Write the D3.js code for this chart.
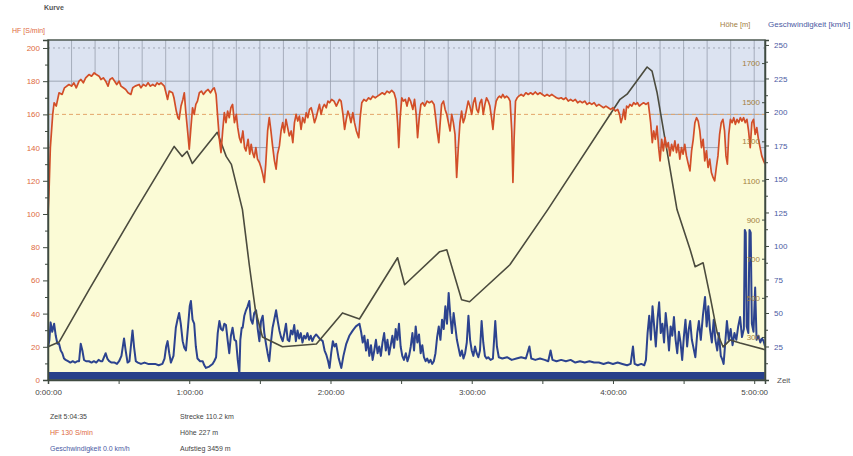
<!DOCTYPE html>
<html><head><meta charset="utf-8">
<script src="https://cdn.jsdelivr.net/npm/d3@7"></script>
<style>body{margin:0;background:#fff}svg{display:block;font-family:"Liberation Sans",Arial,sans-serif}</style>
</head><body><svg id="c" width="853" height="456"></svg>
<script>
// ---- data (time in minutes) ----
const hfSeries = [[0,100],[0.4,112],[1,140],[2,160],[2.6,167],[3.5,165],[4.7,173],[6,172],[7,176],[8.9,178],[10,177],[11,179],[12,176],[13.2,180],[14,181],[15,179],[16,182],[17.4,184],[18.5,183],[19.6,185],[20.5,184],[21.7,183],[22.5,181],[23.5,182],[24.5,180],[25.5,177],[26.3,181],[27.3,182],[28.3,180],[29.2,178],[30.2,180],[31,177],[32,176],[33,175],[34,173],[35.2,172],[36,176],[37,177],[38.7,178],[39.5,176],[40.5,178],[41.6,177],[42.5,179],[43.5,177],[44.5,178],[45.5,177],[46.3,179],[47.2,178],[48,179],[49.4,177],[50.3,172],[50.8,169],[51.5,174],[52.9,173],[53.5,170],[54.5,162],[55.2,158],[55.7,157],[56.5,165],[57.3,169],[57.9,173],[58.5,162],[59.3,150],[60,139],[60.6,150],[61.4,164],[62.1,160],[62.8,166],[63.5,168],[64.3,173],[65.2,174],[66,172],[67.1,174],[68,175],[69,173],[69.9,175],[70.6,176],[71.4,172],[72,160],[72.8,145],[73.5,137],[74.2,150],[74.9,161],[75.6,155],[76.3,162],[77,158],[77.7,164],[78.4,166],[79.2,155],[80,160],[80.6,152],[81.3,146],[82,143],[82.8,150],[83.5,140],[84.1,138],[85,145],[85.7,136],[86.3,142],[86.9,137],[87.6,134],[88.3,140],[89,133],[89.8,131],[90.5,128],[91.2,124],[91.9,119],[92.5,130],[93.3,150],[94,158],[94.7,150],[95.4,141],[96.2,132],[96.9,127],[97.5,136],[98.3,141],[99,150],[99.7,155],[100.4,149],[101.1,157],[101.8,152],[102.5,147],[103.3,150],[104,143],[104.7,155],[105.4,160],[106.1,156],[106.8,159],[107.5,151],[108.2,158],[109,155],[109.7,161],[110.4,158],[111.1,163],[111.8,164],[112.5,160],[113.2,155],[113.9,158],[114.6,162],[115.3,166],[116,160],[116.7,164],[117.4,166],[118.2,164],[118.9,168],[119.6,167],[120.5,169],[121.5,168],[122.5,165],[123.8,169],[124.5,168],[125.3,160],[126,151],[126.7,157],[127.4,162],[128.1,159],[128.7,155],[129.5,161],[130.2,155],[131,150],[132,146],[132.6,158],[133.3,167],[134.2,169],[135.2,168],[136.2,170],[137,169],[138,171],[139,170],[140,171],[141,172],[142,173],[143,172],[144,174],[145,173],[146,174.5],[147,173],[147.8,169],[148.5,155],[149,140],[149.6,158],[150.3,170],[151,168],[151.8,169],[152.5,165],[153.3,170],[154,168],[155,163],[155.7,169],[156.4,160],[157,146],[157.7,158],[158.4,166],[159.2,167],[160,165],[161,168],[162,167],[163,168],[164,166],[164.6,159],[165.3,150],[166,143],[166.6,155],[167.2,166],[168,168],[168.7,163],[169.4,160],[170.1,155],[170.8,150],[171.5,160],[172.2,155],[172.9,148],[173.6,122],[174.3,140],[175,155],[175.7,162],[176.4,155],[177.1,158],[177.8,163],[178.5,168],[179.2,165],[180,160],[180.7,167],[181.4,170],[182.1,163],[182.8,161],[183.5,167],[184.2,169],[184.9,160],[185.6,166],[186.3,170],[187,168],[187.7,165],[188.4,158],[189,151],[189.7,162],[190.4,168],[191.1,170],[191.8,171],[192.5,170],[193.2,172],[194,170],[194.8,171],[195.6,170],[196.3,168],[197,150],[197.5,119],[198,145],[198.6,168],[199.3,170],[200,171],[201,172],[202,171],[203,173],[204,172],[205,173],[206,172],[207,173.5],[208,172],[209,173],[210,172],[211,171],[212,172],[213,171],[214,172],[215,171],[216,170],[217,169.5],[218,170],[219,169],[220,170],[221,168],[222,169],[223,168],[224,169],[225,167],[226,168],[227,167],[228,168],[229,166],[230,167],[231,166],[232,167],[233,165],[234,166],[235,165],[236,164],[237,165],[238,164],[239,163],[240,164],[241,162],[242,163],[242.8,160],[243.4,155],[244,158],[244.6,163],[245.2,157],[245.8,165],[246.5,164],[247.2,166],[248,165],[248.8,167],[249.6,166],[250.4,167],[251.2,165],[252,166],[253,167],[254,166],[255,167],[256,155],[256.7,143],[257.3,150],[258,145],[258.7,153],[259.4,140],[260,132],[260.7,145],[261.4,138],[262.1,146],[262.8,140],[263.5,143],[264.2,135],[264.9,142],[265.6,138],[266.3,144],[267,137],[267.7,142],[268.4,133],[269.1,140],[269.8,136],[270.5,142],[271.2,135],[272,130],[272.7,126],[273.4,138],[274.1,145],[274.8,155],[275.5,158],[276.2,156],[276.9,150],[277.6,140],[278.3,145],[279,132],[279.7,138],[280.4,128],[281.1,133],[281.8,125],[282.5,122],[283.2,120],[283.9,128],[284.6,135],[285.3,148],[286,155],[286.7,157],[287.4,150],[288,135],[288.6,130],[289.2,148],[289.9,157],[290.6,155],[291.3,158],[292,154],[292.7,157],[293.4,155],[294.1,158],[294.8,156],[295.5,158],[296.2,155],[296.9,157],[297.6,150],[298.3,140],[299,155],[299.7,157],[300.4,148],[301.1,152],[301.8,145],[302.5,140],[303.2,135],[304,132],[304.6,130]];

const altSeries = [[0,250],[4.7,274],[17.4,541],[37.4,951],[53.6,1274],[57,1223],[59.1,1249],[61.3,1187],[71.9,1346],[75.7,1223],[77.9,1182],[82.6,951],[85.5,669],[88.1,438],[91.1,300],[99.6,250],[114,264],[125.1,423],[132.3,392],[148.5,705],[151.5,567],[166.4,736],[169.4,746],[175.7,490],[179.1,480],[196.2,669],[212.3,951],[243,1515],[246,1541],[254.5,1680],[256.6,1659],[258.7,1551],[267.2,951],[272.8,746],[274.9,659],[278.3,679],[281.3,505],[284.3,320],[286.8,249],[289.8,285],[294,269],[304.6,235]];

const speedSeries = [[0,24],[0.6,30],[1.1,43],[1.8,36],[2.6,42],[3.3,33],[4,27],[4.7,27],[5.4,22],[6.1,20],[6.8,16],[7.5,15],[8.5,14],[9.5,13],[10.5,14],[11.5,13],[12.4,14],[13.2,14],[13.9,27],[14.6,22],[15.3,15],[16.2,14],[17.4,14],[18.5,13],[19.5,14],[20.5,13],[21.5,15],[22.4,14],[23.1,14],[23.8,17],[24.5,20],[25.2,16],[26,14],[27,13],[28.3,13],[29.3,12],[30.2,14],[31.2,18],[32.3,31],[33,22],[33.8,13],[34.6,14],[35.2,25],[35.9,37],[36.6,24],[37.3,14],[38.2,13],[39.5,12],[41,13],[42.5,12],[44,12],[45.5,12],[47,11],[48.6,12],[49.5,16],[50.2,25],[50.8,29],[51.5,20],[52.2,13],[53.3,18],[54.3,39],[55,45],[55.7,50],[56.4,42],[57.2,29],[57.9,24],[58.6,22],[59.5,40],[60.2,55],[60.7,59],[61.4,45],[62.1,42],[62.8,25],[63.5,16],[64.6,14],[65.7,14],[66.4,11],[67.1,9],[68.5,10],[69.9,12],[70.6,14],[71.4,17],[72.1,35],[72.8,44],[73.5,38],[74.2,37],[74.9,42],[75.6,41],[76.3,30],[77,20],[77.7,33],[78.4,39],[79.2,30],[79.9,29],[80.6,15],[81.3,5],[81.7,30],[82.3,39],[82.7,39],[83.4,48],[84.1,52],[84.8,55],[85.5,59],[86.2,45],[86.9,42],[87.6,50],[88.4,52],[89.1,38],[89.8,29],[90.5,44],[91.2,48],[91.9,35],[92.6,27],[93.3,20],[94,14],[94.7,28],[95.4,39],[96.1,45],[96.9,52],[97.6,44],[98.3,37],[99,32],[99.7,29],[100.4,35],[101.1,42],[101.8,30],[102.5,29],[103.2,37],[103.9,34],[104.6,41],[105.3,29],[106,37],[106.7,31],[107.4,35],[108.1,28],[108.8,33],[109.5,31],[110.2,35],[110.9,30],[111.6,33],[112.3,29],[113,32],[113.9,34],[115.3,31],[116.7,29],[117.5,22],[118.2,19],[119,14],[119.6,9],[120.3,20],[121,29],[121.7,25],[122.4,27],[123.5,16],[124.6,9],[125.5,18],[126.7,27],[128,33],[129.5,37],[130.8,40],[132.3,42],[133,36],[133.7,28],[134.4,33],[135.1,22],[135.8,30],[136.5,18],[137.2,26],[137.9,15],[138.6,22],[139.3,30],[140,20],[140.7,25],[141.4,18],[142.1,28],[142.8,35],[143.5,22],[144.2,30],[144.9,19],[145.6,26],[146.3,33],[147,24],[147.7,38],[148.4,30],[149.1,42],[149.8,25],[150.5,18],[151.2,15],[152,20],[152.7,14],[153.4,18],[154.1,25],[154.8,35],[155.5,22],[156.2,40],[156.9,28],[157.6,34],[158.3,20],[159,26],[159.7,17],[160.4,14],[161.1,16],[161.8,13],[162.5,15],[163.2,12],[163.9,14],[164.6,20],[165.3,32],[166,40],[166.7,30],[167.4,45],[168.1,38],[168.8,55],[169.5,42],[170.2,65],[170.9,48],[171.6,35],[172.3,50],[173,40],[173.7,30],[174.4,24],[175.1,18],[175.8,22],[176.5,16],[177.2,20],[177.9,28],[178.6,48],[179.3,30],[180,22],[180.7,18],[181.4,25],[182.1,20],[182.8,17],[183.5,22],[184.2,44],[184.9,28],[185.6,18],[186.3,16],[187,17],[188,15],[189,16],[190,44],[190.7,25],[191.5,17],[193,16],[195,17],[197,15],[199,16],[201,17],[203,16],[204.5,25],[205.3,16],[207,15],[209,16],[211,15],[212.5,14],[213.5,22],[214.3,15],[216,14],[218,15],[220,14],[222,15],[224,13],[226,14],[228,13],[230,14],[232,13],[234,13],[236,12],[238,13],[240,12],[242,13],[244,12],[246,11],[247.5,12],[248.5,25],[249.2,12],[250.5,11],[252,12],[253.3,11],[254,15],[254.7,35],[255.4,48],[256.1,30],[256.8,55],[257.5,40],[258.2,25],[258.9,45],[259.6,58],[260.3,35],[261,42],[261.7,28],[262.4,50],[263.1,38],[263.8,22],[264.5,40],[265.2,33],[265.9,47],[266.6,30],[267.3,20],[268,36],[268.7,28],[269.4,15],[270.1,32],[270.8,45],[271.5,25],[272.2,38],[272.8,44],[273.5,30],[274.2,24],[275,17],[275.8,35],[276.5,44],[277.3,30],[278.2,48],[279.1,62],[279.8,40],[280.5,55],[281.2,38],[282,28],[282.8,45],[283.5,30],[284.3,22],[285,35],[285.8,18],[286.5,15],[287,12],[288.4,44],[289.2,30],[290,38],[290.8,26],[291.6,35],[292.4,30],[293.2,40],[294,47],[294.8,32],[295.6,38],[296,112],[296.4,110],[296.8,40],[297.5,35],[298,112],[298.5,110],[299,42],[299.7,36],[300.4,69],[301,30],[301.8,33],[302.6,28],[303.3,31],[304,29],[304.6,25]];

const hfTicks = [0,20,40,60,80,100,120,140,160,180,200];
const speedTicks = [25,50,75,100,125,150,175,200,225,250];
const altTicks = [300,500,700,900,1100,1300,1500,1700];
const timeTicks = [0,60,120,180,240,300];
const hfThreshold = 160;
const totalMinutes = 304.58; // 5:04:35
const infoLeft = ["Zeit  5:04:35","HF  130 S/min","Geschwindigkeit  0.0 km/h"];
const infoRight = ["Strecke  110.2 km","Höhe  227 m","Aufstieg  3459 m"];

// ---- layout ----
const svg = d3.select("#c");
const L = 48, R = 765, T = 40, B = 380;
const x = d3.scaleLinear().domain([0, totalMinutes]).range([L, R]);
const yHF = d3.scaleLinear().domain([0, 204.8]).range([B, T]);
const ySp = d3.scaleLinear().domain([0, 253.7]).range([B, T]);
const yAlt = d3.scaleLinear().domain([80, 1818]).range([B, T]);

const fmt = m => { const h=Math.floor(m/60), mm=Math.floor(m%60), s=Math.round((m*60)%60);
  return h+":"+String(mm).padStart(2,"0")+":"+String(s).padStart(2,"0"); };

// background
svg.append("rect").attr("x",L).attr("y",T).attr("width",R-L).attr("height",B-T).attr("fill","#dce3f1");
// grid
const g = svg.append("g");
g.selectAll("line.v").data(d3.range(10, totalMinutes, 10)).join("line")
  .attr("x1",d=>x(d)).attr("x2",d=>x(d)).attr("y1",T).attr("y2",B)
  .attr("stroke","#98a0ae").attr("stroke-width",0.8);
g.selectAll("line.h").data(hfTicks.slice(1)).join("line")
  .attr("x1",L).attr("x2",R).attr("y1",d=>yHF(d)).attr("y2",d=>yHF(d))
  .attr("stroke","#98a0ae").attr("stroke-width",0.9).attr("stroke-dasharray",d=>d===200?"2,3":null);

// HF area (yellow)
svg.append("path").datum(hfSeries)
  .attr("d", d3.area().x(d=>x(d[0])).y0(B).y1(d=>yHF(d[1])))
  .attr("fill","#fbfbd6");
// threshold dashed
svg.append("line").attr("x1",L).attr("x2",R).attr("y1",yHF(hfThreshold)).attr("y2",yHF(hfThreshold))
  .attr("stroke","#e3a66a").attr("stroke-width",1).attr("stroke-dasharray","4,3");

// bottom band
svg.append("rect").attr("x",L).attr("y",B-8).attr("width",R-L).attr("height",8).attr("fill","#27408a");

// speed line
svg.append("path").datum(speedSeries)
  .attr("d", d3.line().x(d=>x(d[0])).y(d=>ySp(d[1])))
  .attr("fill","none").attr("stroke","#2c438f").attr("stroke-width",2).attr("stroke-linejoin","round");
// altitude line
svg.append("path").datum(altSeries)
  .attr("d", d3.line().x(d=>x(d[0])).y(d=>yAlt(d[1])))
  .attr("fill","none").attr("stroke","#4b4b3e").attr("stroke-width",1.6).attr("stroke-linejoin","round");
// HF line
svg.append("path").datum(hfSeries)
  .attr("d", d3.line().x(d=>x(d[0])).y(d=>yHF(d[1])))
  .attr("fill","none").attr("stroke","#d24e28").attr("stroke-width",1.7).attr("stroke-linejoin","round");

// frame
svg.append("rect").attr("x",L).attr("y",T).attr("width",R-L).attr("height",B-T)
  .attr("fill","none").attr("stroke","#4e5a52").attr("stroke-width",1.5);

// left axis
const la = svg.append("g").attr("transform",`translate(${L},0)`)
  .call(d3.axisLeft(yHF).tickValues(hfTicks).tickSize(5).tickPadding(3));
la.select(".domain").attr("stroke","#3f4a40").attr("stroke-width",1.5);
la.selectAll(".tick line").attr("stroke","#3f4a40");
la.selectAll("text").attr("fill","#de6a40").style("font-size","8px");
svg.append("g").attr("transform",`translate(${L},0)`)
  .call(d3.axisLeft(yHF).tickValues(d3.range(10,210,20)).tickSize(3).tickFormat(""))
  .call(s=>{s.select(".domain").remove(); s.selectAll("line").attr("stroke","#3f4a40");});

// right axis (speed)
const ra = svg.append("g").attr("transform",`translate(${R},0)`)
  .call(d3.axisRight(ySp).tickValues(speedTicks).tickSize(4).tickPadding(5));
ra.select(".domain").attr("stroke","#3f4a40").attr("stroke-width",1.5);
ra.selectAll(".tick line").attr("stroke","#3f4a40");
ra.selectAll("text").attr("fill","#4a5aa3").style("font-size","8px");
svg.append("g").attr("transform",`translate(${R},0)`)
  .call(d3.axisRight(ySp).tickValues(d3.range(12.5,250,25)).tickSize(3).tickFormat(""))
  .call(s=>{s.select(".domain").remove(); s.selectAll("line").attr("stroke","#3f4a40");});

// altitude axis (inside)
const aa = svg.append("g").attr("transform",`translate(${R},0)`)
  .call(d3.axisLeft(yAlt).tickValues(altTicks).tickSize(3).tickPadding(2).tickFormat(d3.format("d")));
aa.select(".domain").remove();
aa.selectAll(".tick line").attr("stroke","#3f4a40");
aa.selectAll("text").attr("fill","#a3803f").style("font-size","8px");

// bottom axis
const ba = svg.append("g").attr("transform",`translate(0,${B})`)
  .call(d3.axisBottom(x).tickValues(timeTicks).tickSize(4).tickPadding(5).tickFormat(fmt));
ba.select(".domain").attr("stroke","#3f4a40").attr("stroke-width",1.5);
ba.selectAll(".tick line").attr("stroke","#3f4a40");
ba.selectAll("text").attr("fill","#444").style("font-size","8px");
svg.append("g").attr("transform",`translate(0,${B})`)
  .call(d3.axisBottom(x).tickValues(d3.range(30,300,60)).tickSize(4).tickFormat(""))
  .call(s=>{s.select(".domain").remove(); s.selectAll("line").attr("stroke","#3f4a40");});

// titles
const txt = (t,xx,yy,c,sz,w,anchor)=>svg.append("text").text(t).attr("x",xx).attr("y",yy)
  .attr("fill",c).style("font-size",sz+"px").style("font-weight",w||"normal").attr("text-anchor",anchor||"start");
txt("Kurve",44,10,"#555",7,"bold");
txt("HF [S/min]",12,33,"#de6a40",7);
txt("Höhe [m]",720,27,"#a3803f",7.5);
txt("Geschwindigkeit [km/h]",768,27,"#4a5aa3",8);
txt("Zeit",777,383,"#555",8);

// info block
const infoColors = ["#444","#de6a40","#4a5aa3"];
infoLeft.forEach((t,i)=>txt(t,50,419+i*16,infoColors[i],7));
infoRight.forEach((t,i)=>txt(t,180,419+i*16,"#444",7));
</script></body></html>
